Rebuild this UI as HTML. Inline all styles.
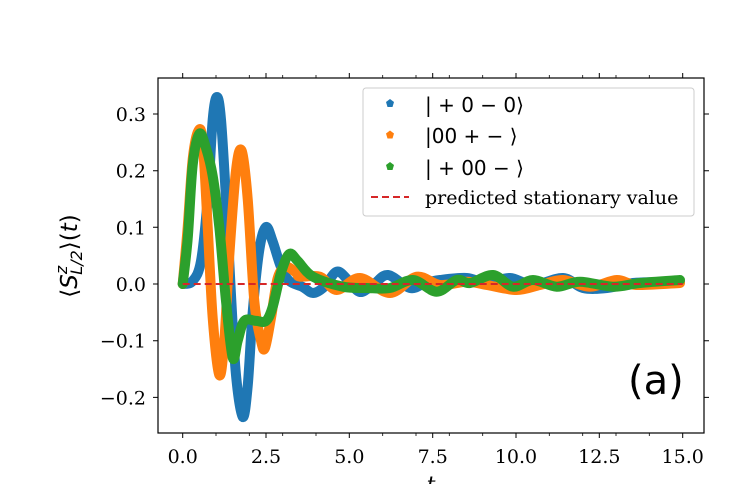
<!DOCTYPE html>
<html><head><meta charset="utf-8"><style>
body{margin:0;background:#fff}
svg text{font-family:"DejaVu Serif","Liberation Serif",serif}
</style></head><body>
<svg id="s" width="740" height="484" viewBox="0 0 740 484" xmlns="http://www.w3.org/2000/svg">
<rect width="740" height="484" fill="#fff"/>
<g fill="none" stroke-linejoin="round" stroke-linecap="round" stroke-width="10">
<path id="b" stroke="#1f77b4"/>
<path id="o" stroke="#ff7f0e"/>
<path id="g" stroke="#2ca02c"/>
</g>
<line x1="182.7" y1="284" x2="682.7" y2="284" stroke="#d62728" stroke-width="2" stroke-dasharray="7,4"/>
<rect x="158" y="78" width="546" height="355" fill="none" stroke="#000" stroke-width="1.2"/>
<g stroke="#000" stroke-width="1">
<path d="M182.7,433v5M266,433v5M349.3,433v5M432.7,433v5M516,433v5M599.3,433v5M682.7,433v5
M182.7,78v-5M266,78v-5M349.3,78v-5M432.7,78v-5M516,78v-5M599.3,78v-5M682.7,78v-5"/>
<path stroke-width="0.8" d="M216,433v3M249.3,433v3M282.7,433v3M316,433v3M382.7,433v3M416,433v3M449.3,433v3M482.7,433v3M549.3,433v3M582.7,433v3M616,433v3M649.3,433v3
M216,78v-3M249.3,78v-3M282.7,78v-3M316,78v-3M382.7,78v-3M416,78v-3M449.3,78v-3M482.7,78v-3M549.3,78v-3M582.7,78v-3M616,78v-3M649.3,78v-3"/>
<path d="M158,114h-5M158,170.7h-5M158,227.3h-5M158,284h-5M158,340.7h-5M158,397.4h-5
M704,114h5M704,170.7h5M704,227.3h5M704,284h5M704,340.7h5M704,397.4h5"/>
</g>
<g font-size="19" text-anchor="end" fill="#000">
<text x="146" y="121">0.3</text>
<text x="146" y="177.7">0.2</text>
<text x="146" y="234.3">0.1</text>
<text x="146" y="291">0.0</text>
<text x="146" y="347.7">−0.1</text>
<text x="146" y="404.4">−0.2</text>
</g>
<g font-size="19" text-anchor="middle" fill="#000">
<text x="182.7" y="463">0.0</text>
<text x="266" y="463">2.5</text>
<text x="349.3" y="463">5.0</text>
<text x="432.7" y="463">7.5</text>
<text x="516" y="463">10.0</text>
<text x="599.3" y="463">12.5</text>
<text x="682.7" y="463">15.0</text>
<text x="431" y="492" font-style="italic" font-size="22">t</text>
</g>
<text transform="translate(77,256) rotate(-90)" text-anchor="middle" font-size="23" style="font-family:'DejaVu Sans',sans-serif">⟨<tspan font-style="italic">S</tspan><tspan font-size="16" dy="-10" font-style="italic">z</tspan><tspan font-size="16" dy="15" dx="-9" font-style="italic">L/2</tspan><tspan dy="-5">⟩(</tspan><tspan font-style="italic">t</tspan>)</text>
<text x="628" y="394" font-size="40" style="font-family:'DejaVu Sans',sans-serif">(a)</text>
<rect x="363" y="88" width="331" height="128" rx="3" fill="#fff" fill-opacity="0.8" stroke="#ccc" stroke-width="1"/>
<g>
<polygon points="390,99 394,102 392.5,107 387.5,107 386,102" fill="#1f77b4"/>
<polygon points="390,130.5 394,133.5 392.5,138.5 387.5,138.5 386,133.5" fill="#ff7f0e"/>
<polygon points="390,162 394,165 392.5,170 387.5,170 386,165" fill="#2ca02c"/>
<line x1="371" y1="197" x2="409" y2="197" stroke="#d62728" stroke-width="2" stroke-dasharray="7,4"/>
</g>
<g font-size="20" fill="#000">
<text x="425" y="112" style="font-family:'DejaVu Sans',sans-serif">| + 0 − 0⟩</text>
<text x="425" y="143" style="font-family:'DejaVu Sans',sans-serif">|00 +  − ⟩</text>
<text x="425" y="175" style="font-family:'DejaVu Sans',sans-serif">| + 00 − ⟩</text>
<text x="425" y="204" font-size="19">predicted stationary value</text>
</g>
</svg>
<script>
function sm(s){var a=s.trim().split(/\s+/).map(function(p){return p.split(',').map(Number)});
var d='M'+a[0][0]+','+a[0][1];
for(var i=0;i<a.length-1;i++){var p0=a[i-1]||a[i],p1=a[i],p2=a[i+1],p3=a[i+2]||p2;
d+=' C'+(p1[0]+(p2[0]-p0[0])/6)+','+(p1[1]+(p2[1]-p0[1])/6)+' '+(p2[0]-(p3[0]-p1[0])/6)+','+(p2[1]-(p3[1]-p1[1])/6)+' '+p2[0]+','+p2[1];}
return d;}
document.getElementById('b').setAttribute('d',sm("182.7,284 192.7,281 201,261 207.7,199 212.7,119.6 217,97 221,119.6 226,199 231,295 236,375 242.7,417 247.7,386 252.7,312 259.3,250 266,227 272.7,241.5 281,267 289.3,281 302.7,287 313,293 324,287 336.7,271.7 348,280 360,292 374,284 388,275 410,288 425,283 440,280 466.7,278 486.7,283 510,278 533,285 563,278 583,288 607,288 633,283 660,282 680,282"));
document.getElementById('o').setAttribute('d',sm("182.7,284 187.7,227 192.7,159 198.3,131 202.7,142 207.7,227 212.7,318 219.3,375 224.3,340.7 229.3,255.7 236,170.6 241.7,150.8 247.7,199 254.3,301 261,340.7 265,348 271,318 277.7,278 286,267 296,272.7 300,276.7 320,276.7 336.7,290 360,278 390,293 416.7,276.7 440,285 466.7,281.7 486.7,285 516.7,290 540,285 563,280 590,286.7 616.7,280 636.7,285 680,283"));
document.getElementById('g').setAttribute('d',sm("182.7,284 187.7,238.6 192.7,165 199.3,133.8 206,148 212.7,176 219.3,227 226,301 232.7,357.7 237.7,340.7 244.3,320.9 256,320.9 266,320.9 272.7,306.7 281,272.7 289.3,254 297.7,261 313,276.7 343,286.7 366.7,288 390,288 413,280 436.7,291.7 456.7,280 470,283 493,275 513,286.7 533,280 556.7,286.7 580,281.7 613,286.7 640,283 680,280"));
</script>
</body></html>
